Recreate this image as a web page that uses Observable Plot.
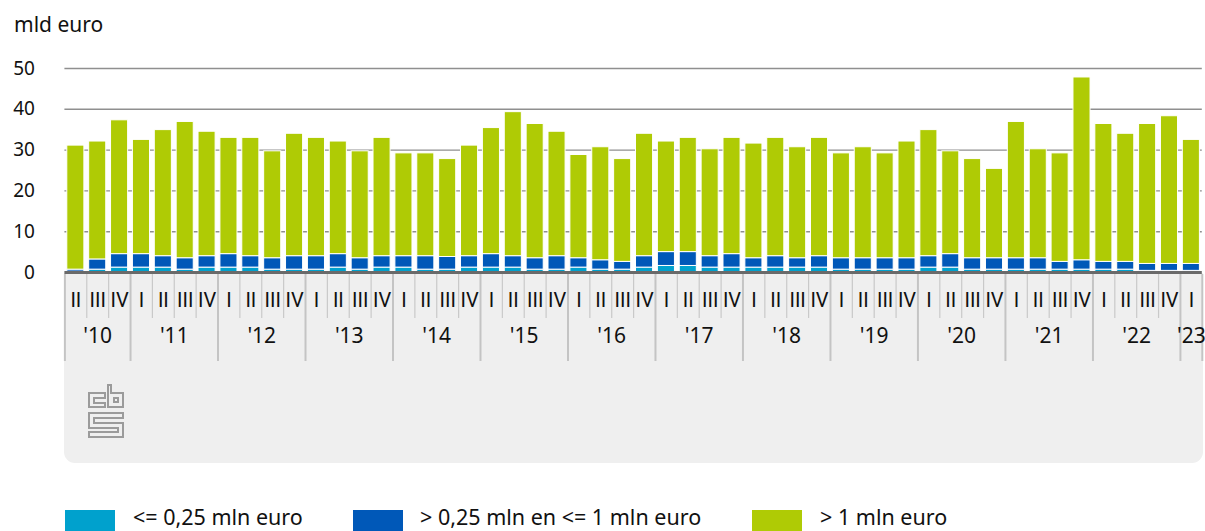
<!DOCTYPE html>
<html><head><meta charset="utf-8">
<script src="https://cdn.jsdelivr.net/npm/d3@7"></script>
<script src="https://cdn.jsdelivr.net/npm/@observablehq/plot@0.6"></script>
<style>
body{margin:0;background:#fff;font-family:"Noto Sans",Roboto,sans-serif;color:#111;}
#wrap{position:relative;width:1205px;height:531px;overflow:hidden;}
#title{position:absolute;left:14px;top:11px;font-size:21px;line-height:26px;}
#panel{position:absolute;left:64px;top:273px;width:1139px;height:190px;background:#efefef;border-radius:0 0 11px 11px;}
#chart{position:absolute;left:0;top:0;}
#logo{position:absolute;left:0;top:0;}
.sw{position:absolute;top:510px;width:50px;height:21px;}
.lt{position:absolute;top:506px;font-size:21.5px;line-height:22px;white-space:nowrap;}
</style></head>
<body>
<div id="wrap">
  <div id="panel"></div>
  <div id="title">mld euro</div>
  <div id="chart"></div>
  <svg id="logo" width="200" height="460" viewBox="0 0 200 460">
    <g fill="none" stroke="#9b9b9b" stroke-width="2">
      <path d="M105,393 H89 V407 H105 V403 H94 V398 H105 Z"/>
      <path d="M108,385 H111 V393 H123 V407 H108 Z"/>
      <path d="M114,398 H118 V402 H114 Z"/>
      <path d="M89,413 H123 V418 H94 V423 H123 V437 H89 V432 H118 V428 H89 Z"/>
    </g>
  </svg>
  <div id="legend"></div>
</div>
<script>
const categories = ["<= 0,25 mln euro", "> 0,25 mln en <= 1 mln euro", "> 1 mln euro"];
const colors = ["#00a1cd", "#0058b8", "#afcb05"];
const quarterLabels = ["I", "II", "III", "IV"];
const yearLabels = ["'10","'11","'12","'13","'14","'15","'16","'17","'18","'19","'20","'21","'22","'23"];
const yTicks = [0, 10, 20, 30, 40, 50];

// 2010 II .. 2023 I
const small = [0.2,0.7,1.2, 1.2,1.2,0.7,1.2, 1.2,1.2,0.7,0.7, 0.7,1.2,0.7,1.2, 1.2,0.7,0.7,1.2,
  1.2,1.2,0.7,0.7, 1.2,0.7,0.7,1.2, 1.6,1.6,1.2,1.2, 1.2,1.2,1.2,1.2, 0.7,0.7,0.7,0.7,
  1.2,1.2,0.7,0.7, 0.7,0.7,0.7,0.7, 0.7,0.7,0.4,0.4, 0.4];
const mid = [0.5,2.5,3.3, 3.3,2.8,2.8,2.8, 3.3,2.8,2.8,3.3, 3.3,3.3,2.8,2.8, 2.8,3.3,3.1,2.8,
  3.3,2.8,2.8,3.3, 2.3,2.3,1.9,2.8, 3.4,3.4,2.8,3.3, 2.3,2.8,2.3,2.8, 2.8,2.8,2.8,2.8,
  2.8,3.3,2.8,2.8, 2.8,2.8,1.9,2.3, 1.9,1.9,1.7,1.7, 1.7];
const large = [30.4,28.9,32.8, 28.0,30.9,33.4,30.5, 28.5,29.0,26.2,30.0, 29.0,27.6,26.2,29.0, 25.2,25.2,24.0,27.1,
  30.9,35.3,32.9,30.5, 25.3,27.7,25.2,30.0, 27.1,28.0,26.2,28.5, 28.1,29.0,27.2,29.0, 25.7,27.2,25.7,28.6,
  30.9,25.2,24.3,21.9, 33.4,26.7,26.6,44.8, 33.8,31.4,34.3,36.2, 30.4];

// periods: year index + quarter index
const periods = [];
for (let y = 0; y < yearLabels.length; y++) for (let q = 0; q < 4; q++) periods.push({y, q});
const per = periods.slice(1, 1 + small.length).map((p, i) => ({...p, i}));

const rows = [];
per.forEach((p, i) => {
  [small, mid, large].forEach((arr, k) => rows.push({i, cat: categories[k], value: arr[i]}));
});

const yearBounds = [-0.5].concat(per.filter(p => p.q === 0).map(p => p.i - 0.5)).concat([per.length - 0.5]);
const quarterBounds = per.filter(p => p.q !== 0 && p.i > 0).map(p => p.i - 0.5);
const yearCenters = yearLabels.map((lab, y) => {
  const idx = per.filter(p => p.y === y).map(p => p.i);
  return {lab, x: d3.mean(idx)};
});

const chart = Plot.plot({
  width: 1205,
  height: 470,
  marginTop: 68,
  marginBottom: 198,
  marginLeft: 64.4,
  marginRight: 3.2,
  style: {fontFamily: "'Noto Sans', Roboto, sans-serif", fontSize: "19px", color: "#111", background: "transparent", overflow: "visible"},
  x: {domain: [-0.5, per.length - 0.5], axis: null},
  y: {domain: [0, 50], axis: null},
  color: {domain: categories, range: colors},
  marks: [
    Plot.ruleY(yTicks.filter(d => d > 0), {stroke: "#8f8f8f", strokeWidth: 1.4}),
    Plot.rectY(rows, {
      x1: d => d.i - 0.5, x2: d => d.i + 0.5, y: "value", z: "cat", fill: "cat",
      order: categories, insetLeft: 2.4, insetRight: 2.4, stroke: "white", strokeWidth: 1
    }),
    Plot.ruleY([0], {stroke: "#6a6a6a", strokeWidth: 3}),
    Plot.axisY(yTicks, {tickSize: 0, tickPadding: 30, fontSize: 19, label: null}),
    Plot.ruleX(quarterBounds, {x: d => d, y1: 0, y2: 0, insetTop: 2, insetBottom: -46, stroke: "#c9c9c9", strokeWidth: 1.2}),
    Plot.ruleX(yearBounds, {x: d => d, y1: 0, y2: 0, insetTop: 2, insetBottom: -89, stroke: "#c4c4c4", strokeWidth: 2}),
    Plot.text(per, {x: "i", text: d => quarterLabels[d.q], frameAnchor: "bottom", dy: 34, fontSize: 20, fontFamily: "Roboto, sans-serif", letterSpacing: "-0.4px", fill: "#111"}),
    Plot.text(yearCenters, {x: "x", text: "lab", frameAnchor: "bottom", dy: 70, fontSize: 21, fill: "#111"})
  ]
});
document.getElementById("chart").appendChild(chart);

const legendPos = [{sw: 65, tx: 133}, {sw: 353, tx: 420}, {sw: 752, tx: 820}];
const legend = document.getElementById("legend");
categories.forEach((c, k) => {
  const s = document.createElement("div");
  s.className = "sw"; s.style.left = legendPos[k].sw + "px"; s.style.background = colors[k];
  const t = document.createElement("div");
  t.className = "lt"; t.style.left = legendPos[k].tx + "px"; t.textContent = c;
  legend.appendChild(s); legend.appendChild(t);
});
</script>
</body></html>
